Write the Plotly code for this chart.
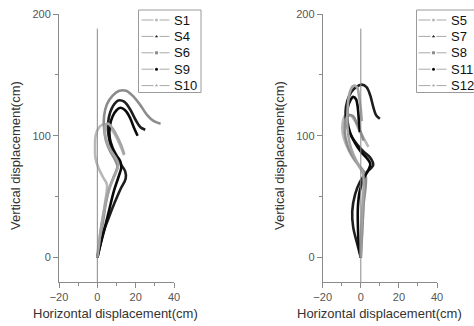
import plotly.graph_objects as go

# ---------------- data (left panel) ----------------
S1_x = [0, 1, 2.5, 4, 5, 3, 0.5, -1, -1.2, -0.9, 0.5, 2.5, 5, 8, 10.5, 12.5, 14]
S1_y = [0, 15, 30, 45, 60, 66, 74, 82, 91, 100, 106, 109, 109, 104, 97, 90, 84]

S4_x = [0, 1.5, 3, 6, 9, 12, 14.8, 14.5, 12, 8.5, 6.5, 5.5, 6, 8, 11, 14, 17, 20, 22.5, 25]
S4_y = [0, 10, 20, 33, 45, 56, 65, 71, 77, 85, 95, 105, 115, 124, 129, 128, 122, 113, 107, 105]

S6_x = [0, 1.5, 3, 4.5, 6.5, 9, 10.5, 9, 6.5, 4.5, 3.5, 3.5, 5, 8, 11.5, 15, 19, 22.5, 26, 29.5, 33]
S6_y = [0, 15, 30, 45, 58, 68, 75, 81, 88, 96, 106, 116, 126, 133, 137, 137, 132, 125, 117, 112, 110]

S9_x = [0, 1.5, 3.5, 6, 8.7, 11, 12.5, 12, 10, 8, 6.5, 6.5, 8, 10, 12, 14.5, 17, 19, 21]
S9_y = [0, 10, 22, 38, 55, 66, 74, 79, 84, 90, 98, 108, 116, 121, 123, 121, 115, 107, 100]

S10_x = [0, 1, 2, 3.5, 5, 7.5, 10, 11, 9.5, 7, 5, 4, 4, 5.5, 8, 10.5, 12.5, 14]
S10_y = [0, 12, 25, 38, 50, 62, 71, 77, 82, 88, 95, 102, 108, 110, 106, 99, 92, 85]

# ---------------- data (right panel) ----------------
S5_x = [0, 0.5, 1, 1.5, 2, 1.5, -1, -4.5, -7.5, -9.5, -9.5, -8, -5.5, -3, -1, 1.5, 4]
S5_y = [0, 15, 30, 45, 58, 68, 75, 83, 92, 102, 111, 117, 117, 112, 105, 98, 91]

S7_x = [0, -2, -4, -4.5, -3, -0.5, 3, 6.5, 5, 1.5, -2, -5, -7.5, -8, -7, -5, -2.5, 0.5, 3, 5, 6.5, 8, 10]
S7_y = [0, 12, 25, 38, 52, 62, 70, 76, 82, 87, 93, 100, 110, 120, 129, 136, 140, 142, 140, 133, 124, 117, 114]

S8_x = [0, 0.5, 1, 1.5, 2.5, 2.5, 0, -3, -6, -8, -8.5, -7.5, -6, -4, -2, 0, 1.5]
S8_y = [0, 15, 30, 45, 58, 68, 74, 80, 88, 98, 108, 115, 117, 116, 110, 103, 96]

S11_x = [0, -1, -1.5, -1.5, -0.5, 1.5, 4, 5, 3, 0, -3, -5.5, -7, -7, -5.5, -4, -2.5, -1.5, -1, -0.5]
S11_y = [0, 10, 25, 42, 55, 65, 72, 77, 82, 87, 94, 102, 112, 122, 129, 132, 130, 122, 112, 103]

S12_x = [0, 0, 0.5, 1, 1.5, 1, -1.5, -4, -6, -7, -7, -6.5, -5.5, -4, -2, -1, 0, 0.5]
S12_y = [0, 15, 30, 45, 60, 70, 77, 85, 95, 107, 120, 130, 137, 141, 140, 133, 122, 112]

left_names = ["S1", "S4", "S6", "S9", "S10"]
right_names = ["S5", "S7", "S8", "S11", "S12"]
x_ticks = [-20, 0, 20, 40]
y_ticks = [0, 100, 200]

left_data = [(S1_x, S1_y), (S4_x, S4_y), (S6_x, S6_y), (S9_x, S9_y), (S10_x, S10_y)]
right_data = [(S5_x, S5_y), (S7_x, S7_y), (S8_x, S8_y), (S11_x, S11_y), (S12_x, S12_y)]

# styles per position in legend
colors = ["#b8b8b8", "#1e1e1e", "#8c8c8c", "#0a0a0a", "#a4a4a4"]
symbols = ["circle", "triangle-up", "square", "circle", "triangle-up"]

FONT = "Liberation Sans, Arial"
fig = go.Figure()

for (xs, ys), col in zip(left_data, colors):
    fig.add_trace(go.Scatter(x=xs, y=ys, mode="lines", line=dict(color=col, width=2.6, shape="spline"),
                             showlegend=False, xaxis="x", yaxis="y", hoverinfo="skip"))
for (xs, ys), col in zip(right_data, colors):
    fig.add_trace(go.Scatter(x=xs, y=ys, mode="lines", line=dict(color=col, width=2.6, shape="spline"),
                             showlegend=False, xaxis="x2", yaxis="y2", hoverinfo="skip"))

# ---- hand-made legends on a hidden pixel-space overlay axis (x3/y3) ----
def add_legend(names, box_left, box_top, box_right, box_bottom, line_x0, text_x, row0, step):
    shapes = [dict(type="rect", xref="x3", yref="y3", x0=box_left, x1=box_right, y0=box_top, y1=box_bottom,
                   line=dict(color="#9a9a9a", width=1), fillcolor="white", layer="below")]
    anns = []
    for i, name in enumerate(names):
        yy = row0 + i * step
        mx = line_x0 + 15
        fig.add_trace(go.Scatter(x=[line_x0, mx - 3, None, mx + 3, line_x0 + 28], y=[yy, yy, None, yy, yy],
                                 mode="lines", line=dict(color="#a8a8a8", width=1),
                                 showlegend=False, xaxis="x3", yaxis="y3", hoverinfo="skip"))
        fig.add_trace(go.Scatter(x=[mx], y=[yy], mode="markers",
                                 marker=dict(color=colors[i], size=3, symbol=symbols[i]),
                                 showlegend=False, xaxis="x3", yaxis="y3", hoverinfo="skip"))
        anns.append(dict(text=name, xref="x3", yref="y3", x=text_x, y=yy, xanchor="left", yanchor="middle",
                         showarrow=False, font=dict(family=FONT, size=13, color="#111111")))
    return shapes, anns

sh1, an1 = add_legend(left_names, 138.5, 10, 201, 92.5, 141.5, 172, 20, 16.4)
sh2, an2 = add_legend(right_names, 416.5, 10, 490, 92.5, 418.5, 449, 20, 16.4)

axis_common = dict(showgrid=False, zeroline=False, showline=True, linecolor="#8a8a8a", linewidth=1,
                   ticks="outside", ticklen=5, tickcolor="#8a8a8a",
                   tickfont=dict(family=FONT, size=11, color="#555555"))
xa = dict(axis_common, range=[-20, 40], tickvals=x_ticks,
          minor=dict(tickvals=[-10, 10, 30], ticks="outside", ticklen=3, tickcolor="#8a8a8a"))
ya = dict(axis_common, range=[-20, 200], tickvals=y_ticks,
          minor=dict(tickvals=[50, 150], ticks="outside", ticklen=3, tickcolor="#8a8a8a"))

ydom = [1 - 282 / 326, 1 - 14 / 326]
title_font = dict(family=FONT, size=13, color="#333333")
fig.update_layout(
    width=474, height=326,
    margin=dict(l=0, r=0, t=0, b=0, autoexpand=False),
    paper_bgcolor="white", plot_bgcolor="rgba(0,0,0,0)",
    showlegend=False,
    xaxis=dict(xa, domain=[59 / 474, 174 / 474], anchor="y"),
    yaxis=dict(ya, domain=ydom, anchor="x"),
    xaxis2=dict(xa, domain=[322.7 / 474, 437 / 474], anchor="y2"),
    yaxis2=dict(ya, domain=ydom, anchor="x2"),
    xaxis3=dict(domain=[0, 1], range=[0, 474], visible=False, anchor="y3", fixedrange=True),
    yaxis3=dict(domain=[0, 1], range=[326, 0], visible=False, anchor="x3", fixedrange=True),
    shapes=[dict(type="line", xref="x", yref="y", x0=0, x1=0, y0=-20, y1=188,
                 line=dict(color="#8a8a8a", width=1)),
            dict(type="line", xref="x2", yref="y2", x0=0, x1=0, y0=-20, y1=188,
                 line=dict(color="#8a8a8a", width=1))] + sh1 + sh2,
    annotations=[
        dict(text="Vertical displacement(cm)", xref="paper", yref="paper", x=15 / 474, y=1 - 156 / 326,
             xanchor="center", yanchor="middle", showarrow=False, textangle=-90, font=title_font),
        dict(text="Vertical displacement(cm)", xref="paper", yref="paper", x=279 / 474, y=1 - 156 / 326,
             xanchor="center", yanchor="middle", showarrow=False, textangle=-90, font=title_font),
        dict(text="Horizontal displacement(cm)", xref="paper", yref="paper", x=115.5 / 474, y=1 - 313 / 326,
             xanchor="center", yanchor="middle", showarrow=False, font=title_font),
        dict(text="Horizontal displacement(cm)", xref="paper", yref="paper", x=379.5 / 474, y=1 - 313 / 326,
             xanchor="center", yanchor="middle", showarrow=False, font=title_font),
    ] + an1 + an2,
)

fig.write_html("out.html", config={"displayModeBar": False},
               post_script="document.body.style.margin='0';document.body.style.overflow='hidden';")
